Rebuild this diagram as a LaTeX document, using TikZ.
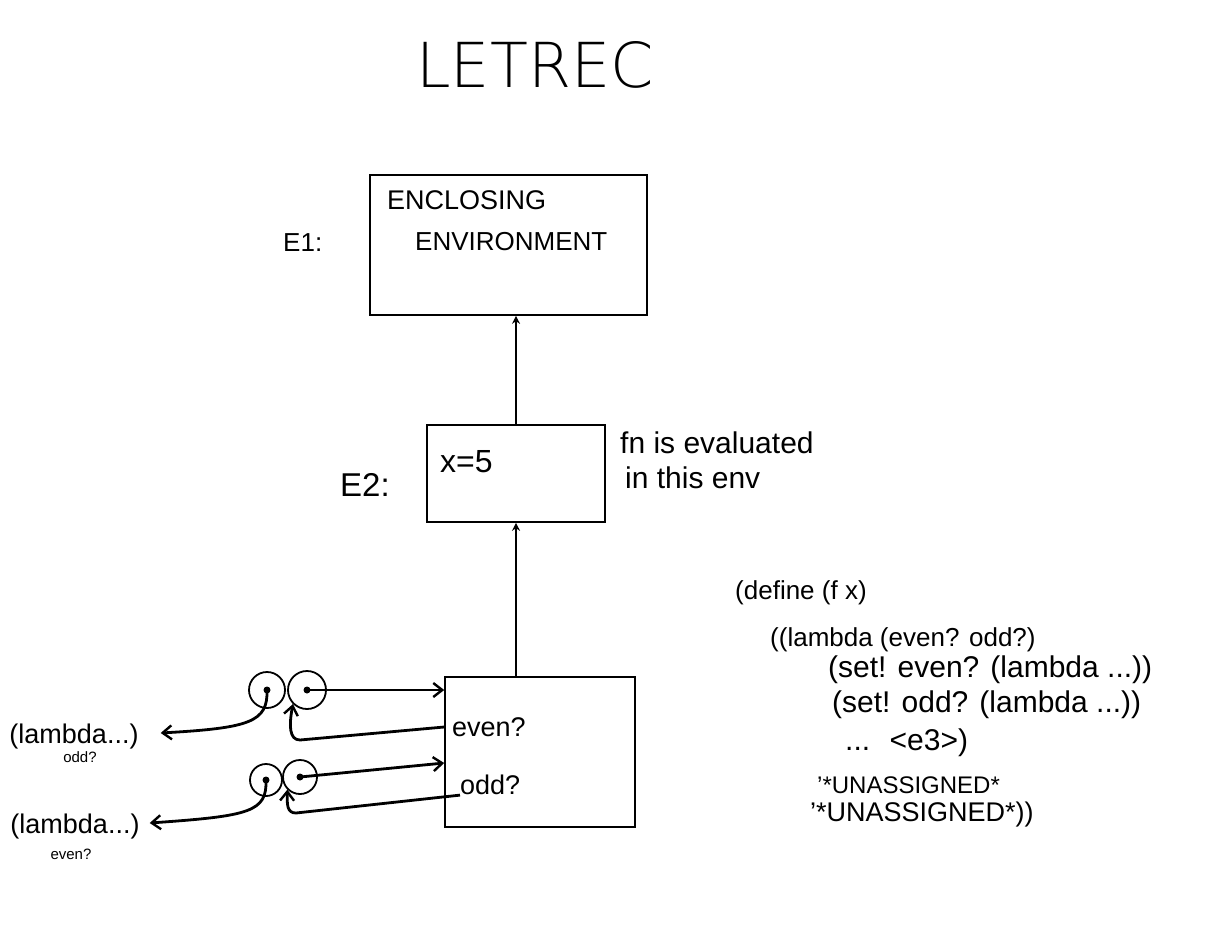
\documentclass[tikz,border=0pt]{standalone}
\usepackage{fontspec}
\setmainfont{Liberation Sans}
\newfontfamily\thinfont{DejaVu Sans ExtraLight}
\usetikzlibrary{arrows.meta,calc}
\tikzset{
  envbox/.style={draw, line width=1.6pt, rectangle, inner sep=0pt},
  cell/.style={draw, circle, line width=1.8pt, inner sep=0pt},
  dotm/.style={fill, circle, inner sep=0pt, minimum size=7pt},
  ptr/.style={line width=2.8pt, -{Straight Barb[length=9pt,width=14pt,line width=2.4pt]}},
  envarrow/.style={line width=1.2pt, -{Stealth[length=8pt,width=8pt]}},
  txt/.style={inner sep=0pt, anchor=west},
  fbig/.style={font=\fontsize{26}{30}\selectfont},
  fcode/.style={font=\fontsize{26}{30}\selectfont},
}
\begin{document}
\begin{tikzpicture}[x=1pt,y=-1pt]
\useasboundingbox (0,0) rectangle (1208,932);
% title
\node[inner sep=0pt, font=\thinfont\fontsize{62}{70}\selectfont] (title) at (535,65) {LETREC};
% environments
\node[envbox, minimum width=277pt, minimum height=140pt] (E1) at (508.5,245) {};
\node[txt, font=\fontsize{27}{30}\selectfont] (enc) at (387,200) {ENCLOSING};
\node[txt, fbig] (env) at (415,242) {ENVIRONMENT};
\node[txt, fbig] (e1l) at (283,243) {E1:};
\node[envbox, minimum width=178pt, minimum height=97pt] (E2) at (516,473.5) {};
\node[txt, font=\fontsize{32}{36}\selectfont] (x5) at (440,462) {x=5};
\node[txt, font=\fontsize{33}{36}\selectfont] (e2l) at (340,485) {E2:};
\node[txt, font=\fontsize{30}{34}\selectfont] (note1) at (620,443) {fn is evaluated};
\node[txt, font=\fontsize{30}{34}\selectfont] (note2) at (625,478) {in this env};
\node[envbox, minimum width=190pt, minimum height=150pt] (E3) at (540,752) {};
\node[txt, font=\fontsize{27}{30}\selectfont] (ev) at (452,727) {even?};
\node[txt, font=\fontsize{27}{30}\selectfont] (od) at (460,785) {odd?};
% env pointers
\draw[envarrow] (E2.north) -- (E2.north |- E1.south);
\draw[envarrow, line width=1.5pt] (E3.north -| E2.south) -- (E2.south);
% procedure objects
\node[cell, minimum size=36pt] (p1a) at (267,690) {};
\node[cell, minimum size=38pt] (p1b) at (307,690) {};
\node[dotm] (d1a) at (p1a.center) {};
\node[dotm] (d1b) at (p1b.center) {};
\node[cell, minimum size=32pt] (p2a) at (266,780) {};
\node[cell, minimum size=34pt] (p2b) at (300,777) {};
\node[dotm] (d2a) at (p2a.center) {};
\node[dotm] (d2b) at (p2b.center) {};
% lambda labels
\node[inner sep=0pt, font=\fontsize{27}{30}\selectfont] (L1) at (74,737) {(lambda...)};
\node[inner sep=0pt, font=\fontsize{15}{18}\selectfont] (L1s) at (80,757) {odd?};
\node[inner sep=0pt, font=\fontsize{27}{30}\selectfont] (L2) at (75,827) {(lambda...)};
\node[inner sep=0pt, font=\fontsize{15}{18}\selectfont] (L2s) at (71,854) {even?};
% pointers, pair 1
\draw[ptr] (p1b.center) -- (p1b.center -| E3.west);
\draw[ptr] (p1a.center) .. controls (268,722) and (250,728) .. ([xshift=22pt,yshift=4pt]L1.east);
\draw[ptr] (E3.west |- ev.west) -- (300,740) .. controls (289,740) and (289,725) .. (p1b.south west);
% pointers, pair 2
\draw[ptr] (p2b.center) -- (E3.west |- 0,763);
\draw[ptr] (p2a.center) .. controls (267,812) and (250,816) .. ([xshift=10pt,yshift=4pt]L2.east);
\draw[ptr] (od.south west) -- (296,813) .. controls (287,813) and (287,805) .. (p2b.south west);
% code
\node[txt, fcode] (c1) at (735,593) {(define (f x)};
\node[txt, fcode] (c2) at (770,640) {((lambda (even? odd?)};
\node[txt, font=\fontsize{30}{34}\selectfont] (c3) at (828,670) {(set! even? (lambda ...))};
\node[txt, font=\fontsize{30}{34}\selectfont] (c4) at (832,705) {(set! odd? (lambda ...))};
\node[txt, font=\fontsize{30}{34}\selectfont] (c5) at (845,743) {...~ <e3>)};
\node[txt, font=\fontsize{24}{28}\selectfont] (c6) at (817,785) {'*UNASSIGNED*};
\node[txt, font=\fontsize{27}{30}\selectfont] (c7) at (810,815) {'*UNASSIGNED*))};
\end{tikzpicture}
\end{document}
